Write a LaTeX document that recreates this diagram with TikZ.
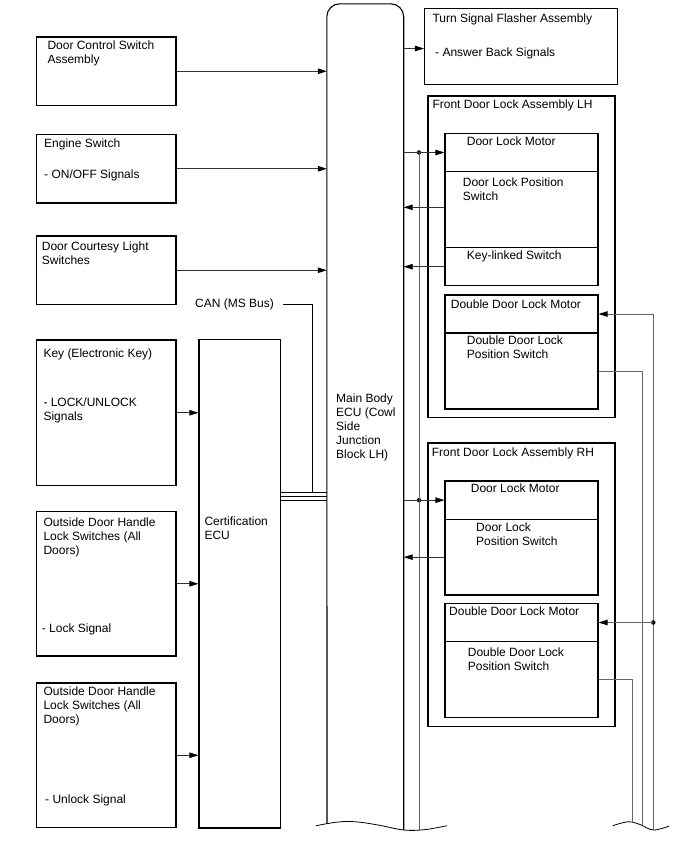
\documentclass[tikz,border=0pt]{standalone}
\usepackage{fontspec}
\setmainfont{Liberation Sans}
\usetikzlibrary{arrows.meta,fit}
\newcommand\mkbox[5]{\coordinate (#1-a) at (#2,#3); \coordinate (#1-b) at (#4,#5); \node[boxst, fit=(#1-a)(#1-b)] (#1) {};}
\begin{document}
\begin{tikzpicture}[x=1pt,y=-1pt,
  boxst/.style={draw=black, line width=1.1pt, inner sep=0pt},
  txt/.style={inner sep=0pt, anchor=base west, align=left, font=\fontsize{12}{14}\selectfont},
  tip/.style={-{Triangle[length=9pt,width=5.5pt,color=black]}},
  arr/.style={draw=black!80, line width=0.8pt, tip},
  wire/.style={draw=black!60, line width=0.9pt},
  bus/.style={draw=black, line width=0.9pt},
  dot/.style={circle, fill=black, inner sep=0pt, minimum size=4.5pt}]
\useasboundingbox (0,0) rectangle (688,852);

% left boxes
\mkbox{dcs}{36.5}{37}{176}{105.5}
\mkbox{eng}{36.5}{134.5}{176}{203}
\mkbox{dcl}{36.5}{236}{176}{304.5}
\mkbox{key}{36.5}{340}{176}{485.5}
\mkbox{odhA}{36.5}{511.5}{176}{656}
\mkbox{odhB}{36.5}{683}{176}{827.5}
\mkbox{cert}{199}{339.5}{280.5}{828}

% main body ECU
\coordinate (ecu-a) at (327,4); \coordinate (ecu-b) at (403.5,830);
\node[inner sep=0pt, fit=(ecu-a)(ecu-b)] (ecu) {};
\coordinate (ecuL) at (327,823.3);
\draw[line width=1.1pt, rounded corners=13pt] (ecuL) -- (ecu.north west) -- (ecu.north east) -- (ecu.south east);

% right boxes
\mkbox{tsf}{424.5}{8.5}{617.5}{84.5}
\mkbox{lh}{428}{96}{615}{417.5}
\mkbox{lhm}{445}{133.5}{598}{171.5}
\mkbox{lhp}{445}{171.5}{598}{247.7}
\mkbox{lhk}{445}{247.7}{598}{285.7}
\mkbox{lhd}{445}{295}{598}{333}
\mkbox{lhdp}{445}{333}{598}{409}
\mkbox{rh}{428}{443}{615}{726.5}
\mkbox{rhm}{445}{481}{598}{519.3}
\mkbox{rhp}{445}{519.3}{598}{595}
\mkbox{rhd}{445}{603.3}{598}{641.7}
\mkbox{rhdp}{445}{641.7}{598}{717.7}

% texts (base anchor = baseline of last line)
\node[txt] (t1) at (47.3,63.3) {Door Control Switch\\Assembly};
\node[txt] (t2) at (44,147.7) {Engine Switch};
\node[txt] (t3) at (44,178) {- ON/OFF Signals};
\node[txt] (t4) at (41.7,264) {Door Courtesy Light\\Switches};
\node[txt, anchor=base east] (can) at (274,307.3) {CAN (MS Bus)};
\node[txt] (t5) at (43.3,357.7) {Key (Electronic Key)};
\node[txt] (t6) at (43.3,420) {- LOCK/UNLOCK\\Signals};
\node[txt] (t7) at (204.3,539) {Certification\\ECU};
\node[txt] (t8) at (43.3,554.7) {Outside Door Handle\\Lock Switches (All\\Doors)};
\node[txt] (t9) at (41.7,632.7) {- Lock Signal};
\node[txt] (t10) at (43.3,723.7) {Outside Door Handle\\Lock Switches (All\\Doors)};
\node[txt] (t11) at (45,803.3) {- Unlock Signal};
\node[txt] (t12) at (336,458.7) {Main Body\\ECU (Cowl\\Side\\Junction\\Block LH)};
\node[txt] (t13) at (432.3,22.7) {Turn Signal Flasher Assembly};
\node[txt] (t14) at (435,56) {- Answer Back Signals};
\node[txt] (t15) at (432.3,108.3) {Front Door Lock Assembly LH};
\node[txt] (t16) at (466.7,145.7) {Door Lock Motor};
\node[txt] (t17) at (462.7,200.7) {Door Lock Position\\Switch};
\node[txt] (t18) at (466.7,259.3) {Key-linked Switch};
\node[txt] (t19) at (450.7,308.3) {Double Door Lock Motor};
\node[txt] (t20) at (466.7,358.3) {Double Door Lock\\Position Switch};
\node[txt] (t21) at (431.7,456) {Front Door Lock Assembly RH};
\node[txt] (t22) at (470.7,492.7) {Door Lock Motor};
\node[txt] (t23) at (476,545.7) {Door Lock\\Position Switch};
\node[txt] (t24) at (449,615.7) {Double Door Lock Motor};
\node[txt] (t25) at (467.7,670.7) {Double Door Lock\\Position Switch};

% inputs
\draw[arr] (dcs.east) -- (dcs.east -| ecu.west);
\draw[arr] (eng.east) -- (eng.east -| ecu.west);
\draw[arr] (dcl.east) -- (dcl.east -| ecu.west);
\draw[arr] (key.east) -- (key.east -| cert.west);
\draw[arr] (odhA.east) -- (odhA.east -| cert.west);
\draw[arr] (odhB.east) -- (odhB.east -| cert.west);

% CAN bus
\coordinate (canj) at (312.3,492.3);
\foreach \yy in {492.3,496.2,500.1} \draw[bus] (cert.east |- 0,\yy) -- (ecu.west |- 0,\yy);
\draw[line width=0.8pt] ([xshift=9pt]can.east) -| (canj);

% outputs
\draw[arr] ([yshift=-2pt]tsf.west -| ecu.east) -- ([yshift=-2pt]tsf.west);
\coordinate (wL) at (419,0);
\coordinate (wLb) at (419,829.8);
\node[dot] (d1) at (lhm.west -| wL) {};
\node[dot] (d2) at (rhm.west -| wL) {};
\draw[wire] (d1.center) -- (wLb);
\draw[arr] (lhm.west -| ecu.east) -- (lhm.west);
\draw[arr] ([yshift=2.3pt]lhp.west) -- ([yshift=2.3pt]lhp.west -| ecu.east);
\draw[arr] (lhk.west) -- (lhk.west -| ecu.east);
\draw[arr] (rhm.west -| ecu.east) -- (rhm.west);
\draw[arr] (rhp.west) -- (rhp.west -| ecu.east);

% right wires
\coordinate (wAb) at (632,822.3);
\coordinate (wBb) at (642,825.3);
\coordinate (wCb) at (653.3,830);
\draw[wire] (lhdp.east) -| (wBb);
\draw[wire] (rhdp.east) -| (wAb);
\draw[wire, tip] (wCb) |- (lhd.east);
\node[dot] (d3) at (rhd.east -| wCb) {};
\draw[wire, tip] (d3.center) -- (rhd.east);

% break lines
\draw[line width=0.8pt] plot[smooth, tension=0.6] coordinates {(316,825.7) (338,822) (356,821.8) (378,825) (404,830) (425,829.6) (447,825.7)};
\draw[line width=0.8pt] plot[smooth, tension=0.6] coordinates {(612.7,825.7) (628,821.8) (640,824.5) (653.3,830) (669.3,826)};
\end{tikzpicture}
\end{document}
